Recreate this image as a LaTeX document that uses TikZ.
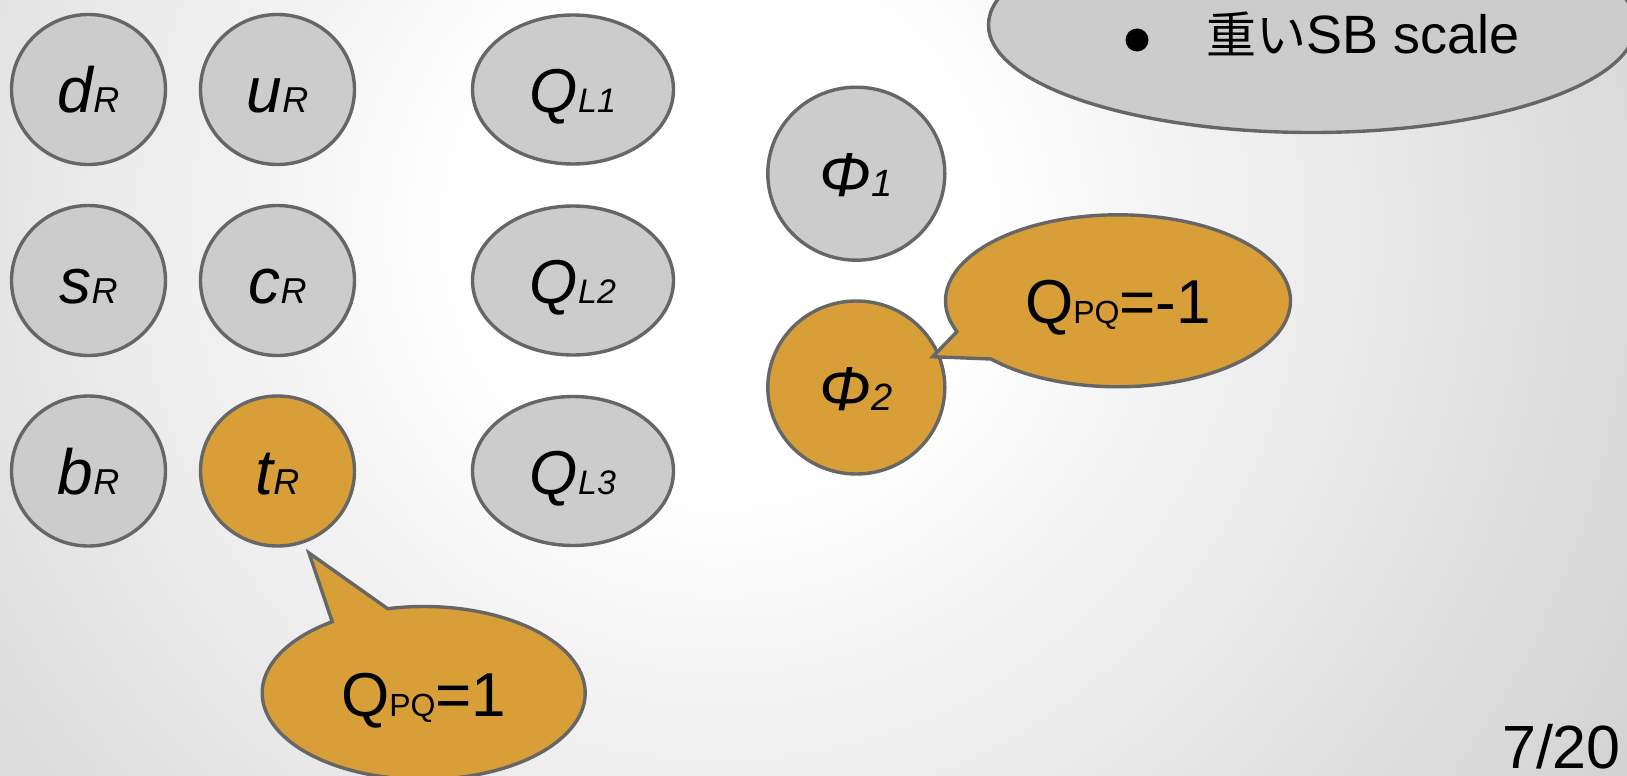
\documentclass[tikz,border=0pt]{standalone}
\usepackage{fontspec}
\setmainfont{Liberation Sans}
\newfontfamily\cjkfont{Noto Sans CJK JP}
\usetikzlibrary{shapes.geometric,calc}
\definecolor{bggray}{RGB}{208,208,208}
\definecolor{nodegray}{RGB}{204,204,204}
\definecolor{edgegray}{RGB}{102,102,102}
\definecolor{gold}{RGB}{216,158,56}
\pgfdeclareradialshading{bgshade}{\pgfpoint{0bp}{0bp}}{color(0bp)=(white); color(250bp)=(white); color(1100bp)=(bggray)}
\newcommand\partlab[3]{#1{\fontsize{#3}{#3}\selectfont #2}}
\begin{document}
\begin{tikzpicture}[x=1pt,y=-1pt,
  particle/.style={ellipse, draw=edgegray, line width=3.4pt, inner sep=0pt,
                   text height=46pt, text depth=0pt},
  quark/.style={particle, minimum width=154pt, minimum height=150pt,
                font=\fontsize{64}{64}\selectfont\itshape},
  lepton/.style={particle, minimum width=201pt, minimum height=149pt,
                 font=\fontsize{62}{62}\selectfont\itshape},
  higgs/.style={particle, minimum width=177pt, minimum height=173pt,
                font=\fontsize{62}{62}\selectfont\itshape},
  plain/.style={fill=nodegray},
  hot/.style={fill=gold},
  callout/.style={fill=gold, draw=edgegray, line width=3.4pt, line join=miter},
  callouttext/.style={inner sep=0pt, text height=46pt, text depth=0pt,
                      font=\fontsize{62}{62}\selectfont}
]
\useasboundingbox (0,0) rectangle (1627,776);
\clip (0,0) rectangle (1627,776);
\node[inner sep=0pt, outer sep=0pt] (bg) at (720,230) {\pgfuseshading{bgshade}};

% top-right bubble
\node[ellipse, draw=edgegray, fill=nodegray, line width=3.4pt, inner sep=0pt,
      minimum width=647pt, minimum height=215pt] (sbbubble) at (1312,25) {};
\node[circle, fill=black, inner sep=0pt, minimum size=23pt] (bullet) at (1137,40) {};
\node[anchor=base west, inner sep=0pt, font=\fontsize{54}{54}\selectfont] (sbtext)
  at (1206.7,53.3) {{\cjkfont\fontsize{50}{50}\selectfont 重い}SB scale};

% quarks
\node[quark, plain] (dR) at (88.5,89.5)  {\partlab{d}{R}{36}};
\node[quark, plain] (uR) at (277.5,89.5) {\partlab{u}{R}{36}};
\node[quark, plain] (sR) at (88.5,280.5) {\partlab{s}{R}{36}};
\node[quark, plain] (cR) at (277.5,280.5) {\partlab{c}{R}{36}};
\node[quark, plain] (bR) at (88.5,471)  {\partlab{b}{R}{36}};
\node[quark, hot]   (tR) at (277.5,471) {\partlab{t}{R}{36}};

% doublets
\node[lepton, plain] (QL1) at (573,89.5)  {\partlab{Q}{L1}{34}};
\node[lepton, plain] (QL2) at (573,280.5) {\partlab{Q}{L2}{34}};
\node[lepton, plain] (QL3) at (573,471)   {\partlab{Q}{L3}{34}};

% higgs
\node[higgs, plain] (phi1) at (856.3,173.7) {\partlab{Φ}{1}{38}};
\node[higgs, hot]   (phi2) at (856.3,387.5) {\partlab{Φ}{2}{38}};

% callout for phi2
\coordinate (c2) at (1118,300.8);
\coordinate (tip2) at (932.7,356.7);
\filldraw[callout] ($(c2)+(222.6:172.5pt and 86pt)$)
  arc[start angle=222.6, end angle=561, x radius=172.5pt, y radius=86pt]
  -- (tip2) -- cycle;
\node[callouttext] (qpqm) at (c2) {Q{\fontsize{32}{32}\selectfont PQ}=-1};

% callout for tR
\coordinate (c1) at (423.7,693);
\coordinate (tip1) at (309,553);
\filldraw[callout] ($(c1)+(102.9:161.5pt and 86.5pt)$)
  arc[start angle=102.9, end angle=-235.5, x radius=161.5pt, y radius=86.5pt]
  -- (tip1) -- cycle;
\node[callouttext] (qpqp) at (c1) {Q{\fontsize{32}{32}\selectfont PQ}=1};

% page number
\node[anchor=base east, inner sep=0pt, font=\fontsize{61}{61}\selectfont] (pageno)
  at (1621,768) {7/20};
\end{tikzpicture}
\end{document}
